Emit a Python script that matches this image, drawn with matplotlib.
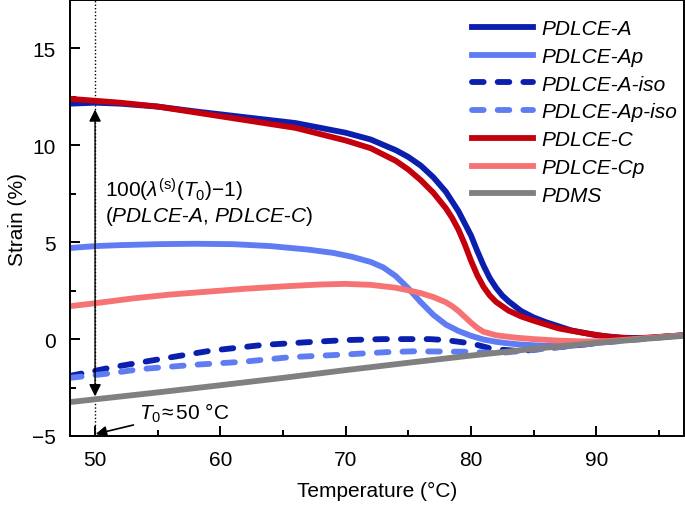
import numpy as np
import matplotlib
matplotlib.use("Agg")
import matplotlib.pyplot as plt
from matplotlib.ticker import MultipleLocator

plt.rcParams['font.family'] = ['Liberation Sans', 'DejaVu Sans']
plt.rcParams['font.size'] = 15
plt.rcParams['mathtext.fontset'] = 'custom'
plt.rcParams['mathtext.rm'] = 'Liberation Sans'
plt.rcParams['mathtext.it'] = 'Liberation Sans:italic'
plt.rcParams['axes.unicode_minus'] = True

# --- data (temperature in degC, strain in %) ---
t_a = [48, 50, 52, 55, 58, 62, 66, 70, 72, 74, 75, 76, 77, 78, 79, 80, 80.5, 81, 81.5,
       82, 82.5, 83, 84, 85, 86, 88, 90, 92, 94, 97]
s_a = [12.15, 12.2, 12.15, 12.0, 11.75, 11.45, 11.15, 10.65, 10.3, 9.75, 9.4, 8.95, 8.35,
       7.6, 6.6, 5.35, 4.55, 3.8, 3.15, 2.65, 2.25, 1.95, 1.45, 1.12, 0.87, 0.45, 0.2,
       0.07, 0.05, 0.2]

t_ap = [48, 50, 52, 55, 58, 61, 64, 67, 69, 70.5, 72, 73, 74, 75, 76, 77, 78, 79, 80, 81,
        82, 83, 84, 86, 88, 90, 93, 97]
s_ap = [4.7, 4.8, 4.85, 4.9, 4.92, 4.9, 4.8, 4.62, 4.45, 4.25, 3.98, 3.7, 3.25, 2.62, 1.9,
        1.25, 0.75, 0.42, 0.17, -0.02, -0.14, -0.22, -0.28, -0.35, -0.35, -0.2, 0.0, 0.2]

t_a_iso = [48, 51.4, 55.2, 59.2, 63.4, 67.2, 70, 73, 76.7, 78, 79.4, 80.5, 81.5, 82.5, 84,
           86, 88, 90, 93, 97]
s_a_iso = [-1.9, -1.45, -1.03, -0.6, -0.3, -0.15, -0.05, 0.0, 0.0, -0.05, -0.17, -0.3,
           -0.47, -0.55, -0.62, -0.48, -0.35, -0.2, 0.0, 0.2]

t_ap_iso = [48, 51.4, 53.6, 57.8, 61.8, 65.6, 69.8, 73.3, 75.4, 79.4, 82.3, 85, 88, 91, 94, 97]
s_ap_iso = [-2.0, -1.75, -1.55, -1.33, -1.17, -0.93, -0.8, -0.67, -0.63, -0.65, -0.72,
            -0.55, -0.35, -0.15, 0.02, 0.2]

t_c = [48, 50, 52, 55, 58, 62, 66, 70, 72, 74, 75, 76, 77, 78, 78.5, 79, 79.5, 80, 80.5,
       81, 81.5, 82, 83, 84, 85, 87, 89, 91, 93, 97]
s_c = [12.4, 12.3, 12.2, 12.0, 11.7, 11.3, 10.9, 10.25, 9.85, 9.2, 8.75, 8.2, 7.55, 6.75,
       6.25, 5.65, 4.9, 4.05, 3.3, 2.7, 2.25, 1.92, 1.47, 1.17, 0.95, 0.55, 0.32, 0.12,
       0.03, 0.2]

t_cp = [48, 50, 53, 56, 59, 62, 65, 68, 70, 72, 74, 75, 76, 77, 78, 78.5, 79, 79.5, 80,
        80.5, 81, 82, 83.5, 85, 87, 89, 91, 94, 97]
s_cp = [1.7, 1.85, 2.1, 2.3, 2.45, 2.6, 2.72, 2.82, 2.85, 2.8, 2.65, 2.52, 2.37, 2.17, 1.9,
        1.7, 1.45, 1.15, 0.85, 0.58, 0.38, 0.2, 0.08, 0.0, -0.08, -0.12, -0.1, 0.05, 0.2]

t_pdms = [48, 55, 60, 65, 70, 75, 80, 85, 90, 94, 97]
s_pdms = [-3.25, -2.75, -2.38, -2.0, -1.6, -1.22, -0.85, -0.5, -0.2, 0.02, 0.17]

fig = plt.figure(figsize=(6.85, 5.06), dpi=100)
ax = fig.add_axes([70 / 685, 69 / 506, 614 / 685, 436 / 506])

lw = 4.2
dash = dict(linestyle=(0, (2.0, 2.4)), dash_capstyle='round')
ax.plot(t_a, s_a, color='#0b1fae', lw=lw, label='PDLCE-A')
ax.plot(t_ap, s_ap, color='#5f7cf2', lw=lw, label='PDLCE-Ap')
ax.plot(t_a_iso, s_a_iso, color='#0b1fae', lw=lw, label='PDLCE-A-iso', **dash)
ax.plot(t_ap_iso, s_ap_iso, color='#5f7cf2', lw=lw, label='PDLCE-Ap-iso', **dash)
ax.plot(t_c, s_c, color='#c4000c', lw=lw, label='PDLCE-C')
ax.plot(t_cp, s_cp, color='#f77272', lw=lw, label='PDLCE-Cp')
ax.plot(t_pdms, s_pdms, color='#808080', lw=lw, label='PDMS')

# annotations
ax.axvline(50, color='black', lw=1.0, ls=(0, (1, 1.5)), zorder=1)
ax.annotate('', xy=(50, 11.85), xytext=(50, -2.95),
            arrowprops=dict(arrowstyle='<|-|>', color='black', lw=1.0,
                            mutation_scale=18, shrinkA=0, shrinkB=0))
ax.text(50.8, 7.75, r'100($\lambda^{\rm (s)}$($T_0$)$-$1)', ha='left', va='center')
ax.text(50.8, 6.4, r'($\it{PDLCE}$-$\it{A}$, $\it{PDLCE}$-$\it{C}$)', ha='left', va='center')
ax.annotate(r'$T_0\!\approx$50 °C', xy=(50.05, -4.9), xytext=(53.5, -3.8),
            ha='left', va='center',
            arrowprops=dict(arrowstyle='-|>', color='black', lw=1.2,
                            mutation_scale=16, shrinkA=2, shrinkB=0))

ax.set_xlim(48, 97)
ax.set_ylim(-5, 17.5)
ax.xaxis.set_major_locator(MultipleLocator(10))
ax.xaxis.set_minor_locator(MultipleLocator(5))
ax.yaxis.set_major_locator(MultipleLocator(5))
ax.yaxis.set_minor_locator(MultipleLocator(2.5))
ax.tick_params(which='both', direction='in', width=1.4)
ax.tick_params(which='major', length=7, pad=10)
ax.tick_params(which='minor', length=4)
for sp in ax.spines.values():
    sp.set_linewidth(1.4)

ax.set_xlabel('Temperature (°C)', labelpad=9)
ax.set_ylabel('Strain (%)', labelpad=4)

leg = ax.legend(loc='upper left', bbox_to_anchor=(0.655, 0.956), frameon=False,
                handlelength=2.9, handletextpad=0.4, labelspacing=0.42,
                borderpad=0, borderaxespad=0, prop={'style': 'italic', 'size': 15})

fig.savefig('out.png', dpi=100)
